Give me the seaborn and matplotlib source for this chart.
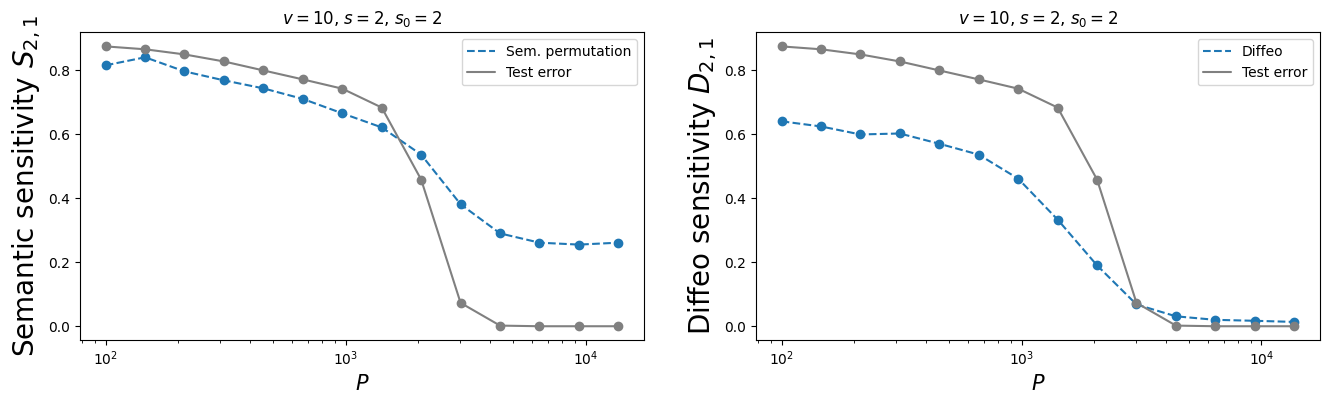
import numpy as np
import pandas as pd
import matplotlib
matplotlib.use("Agg")
import matplotlib.pyplot as plt
import seaborn as sns

# training set sizes
P = [100, 146, 213, 311, 454, 663, 968, 1414, 2064, 3013, 4400, 6424, 9379, 13694]

test_error = [0.874, 0.865, 0.849, 0.827, 0.799, 0.771, 0.742, 0.683,
              0.458, 0.073, 0.002, 0.0, 0.0, 0.0]
sem_perm = [0.815, 0.840, 0.796, 0.768, 0.743, 0.710, 0.665, 0.621,
            0.536, 0.381, 0.290, 0.261, 0.255, 0.261]
diffeo = [0.640, 0.624, 0.599, 0.602, 0.570, 0.536, 0.461, 0.333,
          0.190, 0.068, 0.031, 0.020, 0.017, 0.0135]

title = r"$v = 10$, $s = 2$, $s_0 = 2$"

# plain black matplotlib look
sns.set_style("ticks", {"axes.edgecolor": "black", "text.color": "black",
                        "xtick.color": "black", "ytick.color": "black",
                        "axes.labelcolor": "black"})
plt.rcParams['font.family'] = ['DejaVu Sans']

df = pd.DataFrame({'P': P, 'test': test_error, 'sem': sem_perm, 'diffeo': diffeo})

fig = plt.figure(figsize=(13.3, 4.04), dpi=100)
ax1 = fig.add_axes([0.0602, 0.158, 0.424, 0.762])
ax2 = fig.add_axes([0.5684, 0.158, 0.424, 0.762])

panels = [
    (ax1, 'sem', 'Sem. permutation', r"Semantic sensitivity $S_{2,1}$"),
    (ax2, 'diffeo', 'Diffeo', r"Diffeo sensitivity $D_{2,1}$"),
]

for ax, col, lab, ylab in panels:
    sns.lineplot(data=df, x='P', y=col, ax=ax, color='C0', linestyle='--', label=lab)
    ax.scatter(df['P'], df[col], color='C0', s=36, zorder=3)
    sns.lineplot(data=df, x='P', y='test', ax=ax, color='grey', label='Test error')
    ax.scatter(df['P'], df['test'], color='grey', s=36, zorder=3)
    ax.set_xscale('log')
    ax.set_title(title, fontsize=12)
    ax.set_xlabel(r"$P$", fontsize=15)
    ax.set_ylabel(ylab, fontsize=20)
    ax.set_ylim(-0.0435, 0.918)
    ax.set_yticks([0.0, 0.2, 0.4, 0.6, 0.8])
    ax.legend(loc='upper right', fontsize=10)
    for s in ax.spines.values():
        s.set_visible(True)

fig.savefig('out.png', dpi=100)
